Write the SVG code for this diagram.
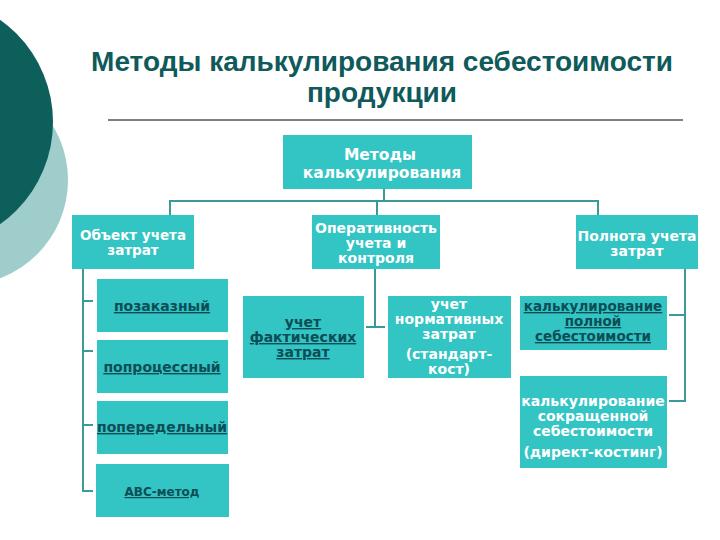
<svg xmlns="http://www.w3.org/2000/svg" width="720" height="540" viewBox="0 0 720 540">
<style>
.box{fill:#33c4c4}
.wt{font-family:"DejaVu Sans",Verdana,sans-serif;font-weight:bold;font-size:14px;fill:#ffffff;text-anchor:middle}
.dt{font-family:"DejaVu Sans",Verdana,sans-serif;font-weight:bold;font-size:14px;fill:#0d4d55;text-anchor:middle;text-decoration:underline}
.title{font-family:"Liberation Sans",Arial,sans-serif;font-weight:bold;font-size:28px;fill:#0f5a5a;text-anchor:middle}
.con{fill:none;stroke:#3a9999;stroke-width:2}
</style>
<rect width="720" height="540" fill="#ffffff"/>
<circle cx="-37" cy="180" r="105" fill="#9ecdcb"/>
<circle cx="-72" cy="122" r="125" fill="#0d5f5b"/>
<g id="title">
<text class="title" x="382" y="71">Методы калькулирования себестоимости</text>
<text class="title" x="382" y="102">продукции</text>
<line x1="108" y1="120" x2="683" y2="120" stroke="#000000" stroke-width="1"/>
</g>
<g id="connectors">
<line class="con" x1="384" y1="189" x2="384" y2="201" stroke-width="3"/>
<polyline class="con" points="170,215 170,201 598,201 598,215" stroke-width="3"/>
<line class="con" x1="377" y1="201" x2="377" y2="215"/>
<polyline class="con" points="93,301 83,301 83,269"/>
<polyline class="con" points="83,300 83,491 93,491"/>
<line class="con" x1="83" y1="351" x2="93" y2="351"/>
<line class="con" x1="83" y1="425" x2="93" y2="425"/>
<line class="con" x1="375" y1="269" x2="375" y2="327" stroke-width="3"/>
<line class="con" x1="366" y1="327" x2="385" y2="327"/>
<polyline class="con" points="685,269 685,401 669,401"/>
<line class="con" x1="669" y1="315" x2="685" y2="315"/>
</g>
<g id="n-methods">
<rect class="box" x="283" y="135" width="189" height="54"/>
<text class="wt" x="380" y="160" style="font-size:15.5px">Методы</text>
<text class="wt" x="382" y="178" style="font-size:15.5px">калькулирования</text>
</g>
<g id="n-object">
<rect class="box" x="72" y="215" width="122" height="54"/>
<text class="wt" x="133" y="240" style="font-size:13.5px">Объект учета</text>
<text class="wt" x="133" y="255" style="font-size:13.5px">затрат</text>
</g>
<g id="n-oper">
<rect class="box" x="312" y="215" width="128" height="54"/>
<text class="wt" x="376" y="233">Оперативность</text>
<text class="wt" x="376" y="248">учета и</text>
<text class="wt" x="376" y="263">контроля</text>
</g>
<g id="n-full">
<rect class="box" x="576" y="215" width="122" height="54"/>
<text class="wt" x="637" y="241">Полнота учета</text>
<text class="wt" x="637" y="256">затрат</text>
</g>
<g id="n-order">
<rect class="box" x="97" y="279" width="131" height="53"/>
<text class="dt" x="162" y="311">позаказный</text>
</g>
<g id="n-process">
<rect class="box" x="97" y="340" width="131" height="53"/>
<text class="dt" x="162" y="372">попроцессный</text>
</g>
<g id="n-stage">
<rect class="box" x="97" y="401" width="131" height="53"/>
<text class="dt" x="162" y="432">попередельный</text>
</g>
<g id="n-abc">
<rect class="box" x="96" y="464" width="133" height="53"/>
<text class="dt" x="162" y="496" style="font-size:12px">АВС-метод</text>
</g>
<g id="n-actual">
<rect class="box" x="243" y="296" width="121" height="82"/>
<text class="dt" x="303" y="327">учет</text>
<text class="dt" x="303" y="342">фактических</text>
<text class="dt" x="303" y="357">затрат</text>
</g>
<g id="n-norm">
<rect class="box" x="388" y="296" width="123" height="82"/>
<text class="wt" x="449" y="309">учет</text>
<text class="wt" x="449" y="324">нормативных</text>
<text class="wt" x="449" y="339">затрат</text>
<text class="wt" x="449" y="359">(стандарт-</text>
<text class="wt" x="449" y="374">кост)</text>
</g>
<g id="n-fullcost">
<rect class="box" x="520" y="296" width="147" height="54"/>
<text class="dt" x="593" y="311" style="font-size:13.5px">калькулирование</text>
<text class="dt" x="593" y="326" style="font-size:13.5px">полной</text>
<text class="dt" x="593" y="341" style="font-size:13.5px">себестоимости</text>
</g>
<g id="n-direct">
<rect class="box" x="520" y="376" width="147" height="92"/>
<text class="wt" x="593" y="406">калькулирование</text>
<text class="wt" x="593" y="421">сокращенной</text>
<text class="wt" x="593" y="436">себестоимости</text>
<text class="wt" x="593" y="457">(директ-костинг)</text>
</g>
</svg>
